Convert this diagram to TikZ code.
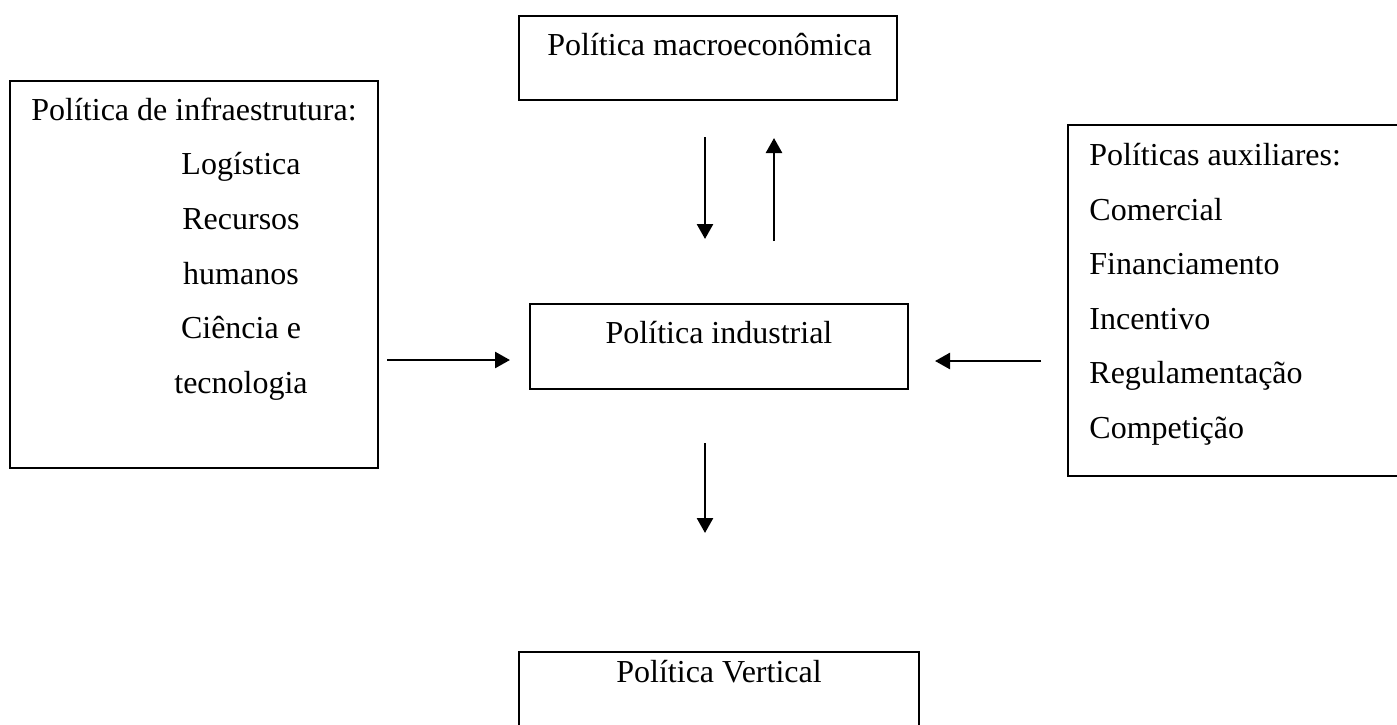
\documentclass[tikz,border=0pt]{standalone}
\usepackage{fontspec}
\setmainfont{Liberation Serif}
\usetikzlibrary{arrows.meta}
\begin{document}
\begin{tikzpicture}[x=0.5pt,y=-0.5pt,
  box/.style={draw=black, line width=1.2pt, rectangle, inner sep=0pt, outer sep=0pt, anchor=north west},
  txt/.style={inner sep=0pt, font=\fontsize{16}{27}\selectfont},
  arr/.style={line width=1.3pt, -{Triangle[length=7.5pt,width=8pt]}}]
\useasboundingbox (0,0) rectangle (1397,724);
\fill[white] (0,0) rectangle (1397,724);

% boxes
\node[box, minimum width=189pt, minimum height=42pt] (macro) at (519,16) {};
\node[box, minimum width=184pt, minimum height=193.5pt] (infra) at (10,81) {};
\node[box, minimum width=168.5pt, minimum height=175.5pt] (aux) at (1068,125) {};
\node[box, minimum width=189pt, minimum height=42.5pt] (ind) at (530,304) {};
\node[box, minimum width=200pt, minimum height=44pt] (vert) at (519,652) {};

% texts
\node[txt, anchor=base west] (tmacro) at (547,55) {Política macroeconômica};
\node[txt, anchor=base west] (tinfra) at (31,120) {Política de infraestrutura:};
\node[txt, anchor=base] (i1) at (241,174.5) {Logística};
\node[txt, anchor=base] (i2) at (241,229) {Recursos};
\node[txt, anchor=base] (i3) at (241,284) {humanos};
\node[txt, anchor=base] (i4) at (241,338.5) {Ciência e};
\node[txt, anchor=base] (i5) at (241,393.5) {tecnologia};
\node[txt, anchor=base west] (taux) at (1089,165) {Políticas auxiliares:};
\node[txt, anchor=base west] (a1) at (1089,220) {Comercial};
\node[txt, anchor=base west] (a2) at (1089,274.5) {Financiamento};
\node[txt, anchor=base west] (a3) at (1089,329) {Incentivo};
\node[txt, anchor=base west] (a4) at (1089,383.5) {Regulamentação};
\node[txt, anchor=base west] (a5) at (1089,438) {Competição};
\node[txt, anchor=base] (tind) at (719,343) {Política industrial};
\node[txt, anchor=base] (tvert) at (719,682) {Política Vertical};

% arrow end points
\coordinate (d1s) at (705,137);
\coordinate (d1e) at (705,239);
\coordinate (u1s) at (774,241);
\coordinate (u1e) at (774,138);
\coordinate (l1s) at (387,360);
\coordinate (l1e) at (510,360);
\coordinate (r1s) at (1041,361);
\coordinate (r1e) at (935,361);
\coordinate (d2s) at (705,443);
\coordinate (d2e) at (705,533);

\draw[arr] (d1s) -- (d1e);
\draw[arr] (u1s) -- (u1e);
\draw[arr] (l1s) -- (l1e);
\draw[arr] (r1s) -- (r1e);
\draw[arr] (d2s) -- (d2e);
\end{tikzpicture}
\end{document}
